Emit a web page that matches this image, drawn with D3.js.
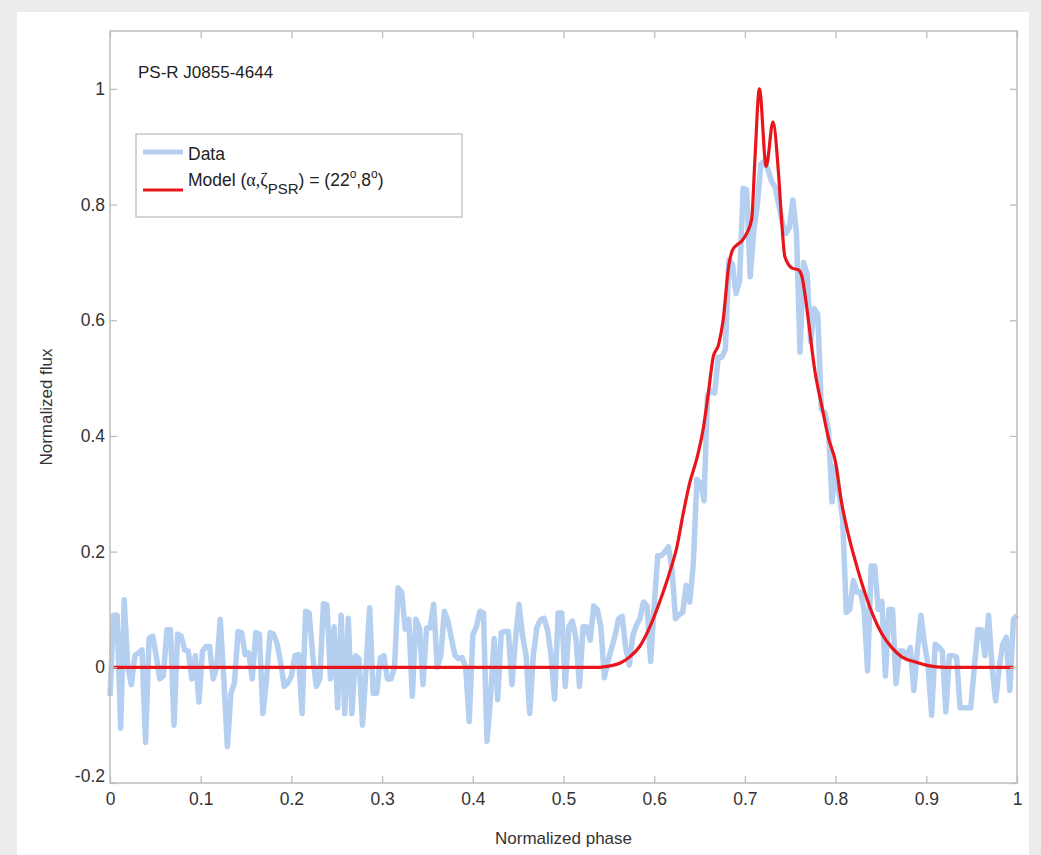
<!DOCTYPE html>
<html><head><meta charset="utf-8">
<script src="https://cdn.jsdelivr.net/npm/d3@7"></script>
<style>body{margin:0;background:#ececec;} svg{display:block}</style>
</head><body>
<svg id="c" width="1041" height="855"></svg>
<script>
// Observed (noisy) profile, 256 uniform phase bins
const dataFlux = [
 -0.05,0.09,0.09,-0.105,0.117,0.0,-0.03,0.02,0.025,0.03,
 -0.13,0.05,0.054,0.02,-0.02,-0.015,0.065,0.065,-0.1,0.057,
 0.054,0.03,0.028,-0.02,0.02,-0.06,0.028,0.036,0.036,-0.02,
 0.0,0.083,-0.02,-0.137,-0.045,-0.027,0.062,0.06,0.022,0.025,
 -0.02,0.06,0.057,-0.08,-0.02,0.06,0.057,0.04,0.008,-0.033,
 -0.027,-0.015,0.02,0.022,-0.08,0.097,0.094,0.02,-0.033,-0.02,
 0.11,0.108,-0.02,0.07,-0.07,0.09,-0.08,0.085,-0.08,0.02,
 0.015,-0.1,0.0,0.103,-0.045,-0.045,0.016,0.02,-0.02,-0.02,
 0.0,0.137,0.13,0.066,0.083,-0.05,0.083,0.068,-0.03,0.068,
 0.068,0.109,0.0,0.02,0.097,0.08,0.05,0.02,0.015,0.017,
 0.0,-0.094,0.056,0.07,0.097,0.094,-0.128,-0.05,0.05,-0.056,
 0.06,0.062,0.062,-0.03,0.048,0.109,0.054,0.02,-0.08,0.02,
 0.068,0.082,0.085,0.065,0.02,-0.055,0.094,0.094,-0.033,0.07,
 0.08,0.05,-0.033,0.07,0.07,0.047,0.106,0.1,0.07,-0.018,
 0.01,0.033,0.055,0.084,0.088,0.033,0.004,0.055,0.073,0.084,
 0.113,0.106,0.01,0.106,0.193,0.193,0.2,0.208,0.17,0.084,
 0.091,0.095,0.142,0.113,0.179,0.325,0.318,0.288,0.47,0.478,
 0.474,0.536,0.536,0.55,0.704,0.697,0.646,0.668,0.828,0.825,
 0.675,0.755,0.80,0.87,0.875,0.86,0.84,0.83,0.80,0.77,
 0.75,0.76,0.808,0.75,0.545,0.70,0.68,0.563,0.62,0.61,
 0.446,0.44,0.41,0.286,0.348,0.30,0.255,0.095,0.10,0.15,
 0.13,0.13,0.10,-0.006,0.175,0.175,0.10,0.114,-0.015,0.10,
 0.10,-0.028,0.028,0.028,0.02,0.034,-0.04,0.03,0.09,0.04,
 0.003,-0.083,0.04,0.035,0.028,-0.077,0.02,0.02,0.018,-0.07,
 -0.07,-0.07,-0.07,0.0,0.065,0.065,0.02,0.09,0.0,-0.058,
 0.0,0.04,0.052,-0.04,0.083,0.09
];
// Model profile
const modelPhase = [0.004,0.54,0.55,0.562,0.573,0.584,0.595,0.606,0.617,0.625,0.632,0.639,0.647,0.654,0.660,0.665,0.671,0.676,0.682,0.686,0.691,0.696,0.702,0.7075,0.711,0.716,0.7235,0.731,0.737,0.741,0.744,0.752,0.759,0.763,0.766,0.770,0.777,0.785,0.792,0.800,0.806,0.814,0.821,0.829,0.840,0.851,0.862,0.873,0.888,0.902,0.920,0.996];
const modelFlux  = [0,0,0.002,0.007,0.018,0.036,0.069,0.113,0.164,0.208,0.266,0.318,0.361,0.412,0.478,0.536,0.558,0.60,0.692,0.72,0.73,0.736,0.75,0.775,0.877,1.0,0.866,0.943,0.855,0.761,0.71,0.69,0.687,0.675,0.647,0.60,0.514,0.45,0.397,0.354,0.29,0.23,0.188,0.145,0.095,0.058,0.034,0.018,0.009,0.003,0,0];
const xTicks = [0,0.1,0.2,0.3,0.4,0.5,0.6,0.7,0.8,0.9,1];
const xTickLabels = ["0","0.1","0.2","0.3","0.4","0.5","0.6","0.7","0.8","0.9","1"];
const yTicks = [-0.2,0,0.2,0.4,0.6,0.8,1];
const yTickLabels = ["-0.2","0","0.2","0.4","0.6","0.8","1"];

const svg = d3.select("#c");
const W = 1041, H = 855;
const m = {l:110, r:1017, t:31, b:783};
const font = "'Liberation Sans', Arial, Helvetica, sans-serif";

// white panel
svg.append("rect").attr("x",17).attr("y",12).attr("width",1012).attr("height",H).attr("fill","#fff");

const x = d3.scaleLinear().domain([0,1]).range([m.l, m.r]);
const y = d3.scaleLinear().domain([-0.2,1.1]).range([m.b, m.t]);

const N = dataFlux.length;
const dataPts = dataFlux.map((v,i)=>[i/(N-1), v]);
const modelPts = modelPhase.map((p,i)=>[p, modelFlux[i]]);

const line = d3.line().x(d=>x(d[0])).y(d=>y(d[1]));
svg.append("path").datum(dataPts).attr("d", line)
  .attr("fill","none").attr("stroke","#b4cfef").attr("stroke-width",5.5).attr("stroke-linejoin","round");
svg.append("path").datum(modelPts).attr("d", line.curve(d3.curveMonotoneX))
  .attr("fill","none").attr("stroke","#e8161b").attr("stroke-width",3.2).attr("stroke-linejoin","round");

// axes box
const axCol = "#bdbdbd";
svg.append("rect").attr("x",m.l).attr("y",m.t).attr("width",m.r-m.l).attr("height",m.b-m.t)
  .attr("fill","none").attr("stroke",axCol).attr("stroke-width",1.5);

const gx = svg.append("g").attr("transform",`translate(0,${m.b})`)
  .call(d3.axisBottom(x).tickValues(xTicks).tickFormat((d,i)=>xTickLabels[i]).tickSizeInner(-7).tickSizeOuter(0).tickPadding(10));
const gxt = svg.append("g").attr("transform",`translate(0,${m.t})`)
  .call(d3.axisTop(x).tickValues(xTicks).tickFormat("").tickSizeInner(-7).tickSizeOuter(0));
const gy = svg.append("g").attr("transform",`translate(${m.l},0)`)
  .call(d3.axisLeft(y).tickValues(yTicks).tickFormat((d,i)=>yTickLabels[i]).tickSizeInner(-7).tickSizeOuter(0).tickPadding(5));
const gyr = svg.append("g").attr("transform",`translate(${m.r},0)`)
  .call(d3.axisRight(y).tickValues(yTicks).tickFormat("").tickSizeInner(-7).tickSizeOuter(0));
[gx,gxt,gy,gyr].forEach(g=>{
  g.select(".domain").remove();
  g.selectAll(".tick line").attr("stroke",axCol).attr("stroke-width",1.3);
  g.selectAll("text").attr("font-family",font).attr("font-size",17.5).attr("fill","#333");
});
gy.selectAll(".tick").filter(d=>d===-0.2).select("text").attr("dy","-0.1em");

// axis titles
svg.append("text").attr("x",(m.l+m.r)/2).attr("y",844).attr("text-anchor","middle")
  .attr("font-family",font).attr("font-size",17).attr("fill","#333").text("Normalized phase");
svg.append("text").attr("transform",`translate(52,${(m.t+m.b)/2}) rotate(-90)`).attr("text-anchor","middle")
  .attr("font-family",font).attr("font-size",17).attr("fill","#333").text("Normalized flux");

// annotation
svg.append("text").attr("x",138).attr("y",78).attr("font-family",font).attr("font-size",17).attr("fill","#222")
  .text("PS-R J0855-4644");

// legend
const lg = svg.append("g");
lg.append("rect").attr("x",136).attr("y",134).attr("width",326).attr("height",83)
  .attr("fill","#fff").attr("stroke",axCol).attr("stroke-width",1.3);
lg.append("line").attr("x1",143).attr("x2",183).attr("y1",152).attr("y2",152).attr("stroke","#b4cfef").attr("stroke-width",5);
lg.append("line").attr("x1",143).attr("x2",183).attr("y1",190).attr("y2",190).attr("stroke","#e8161b").attr("stroke-width",3.2);
lg.append("text").attr("x",188).attr("y",160).attr("font-family",font).attr("font-size",17.5).attr("fill","#222").text("Data");
const t2 = lg.append("text").attr("x",188).attr("y",186).attr("font-family",font).attr("font-size",17.5).attr("fill","#222");
t2.append("tspan").text("Model (");
t2.append("tspan").attr("font-family","'Liberation Serif', 'Times New Roman', serif").attr("font-size",18).text("α,ζ");
t2.append("tspan").attr("dy",8).attr("font-size",15).text("PSR");
t2.append("tspan").attr("dy",-8).text(") = (22");
t2.append("tspan").attr("dy",-8).attr("font-size",12).text("o");
t2.append("tspan").attr("dy",8).text(",8");
t2.append("tspan").attr("dy",-8).attr("font-size",12).text("o");
t2.append("tspan").attr("dy",8).text(")");
</script>
</body></html>
